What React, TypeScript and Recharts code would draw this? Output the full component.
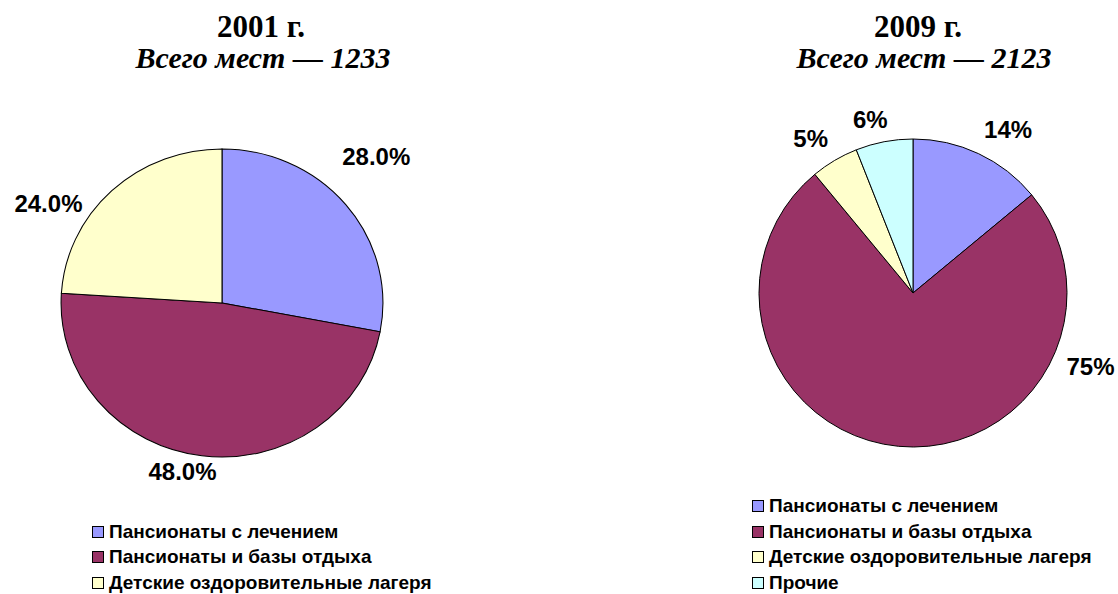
import { Cell, Pie, PieChart } from "recharts";

const categories = [
	"Пансионаты с лечением",
	"Пансионаты и базы отдыха",
	"Детские оздоровительные лагеря",
	"Прочие",
];
const shares2001 = [28, 48, 24];
const shares2009 = [14, 75, 5, 6];
const years = ["2001 г.", "2009 г."];
const totals = [1233, 2123];

const colors = ["#9999FF", "#993366", "#FFFFCC", "#CCFFFF"];

// where Excel left the value labels: angular shift from the slice middle and distance past the rim
const labelSpots2001 = [
	{ shift: -4, extra: 59 },
	{ shift: 6, extra: 19 },
	{ shift: -17, extra: 46 },
];
const labelSpots2009 = [
	{ shift: 5, extra: 35 },
	{ shift: -73, extra: 38 },
	{ shift: -3, extra: 31 },
	{ shift: -3, extra: 25 },
];

const RAD = Math.PI / 180;
const SANS = '"Liberation Sans", Arial, sans-serif';
const SERIF = '"Liberation Serif", "Times New Roman", serif';

const makeLabel =
	(decimals: number, spots: { shift: number; extra: number }[]) =>
	(props: any) => {
		const { cx, cy, midAngle, outerRadius, percent, index } = props;
		const spot = spots[index] || { shift: 0, extra: 30 };
		const a = (90 - midAngle + spot.shift) * RAD;
		const r = outerRadius + spot.extra;
		return (
			<text
				x={cx + r * Math.sin(a)}
				y={cy - r * Math.cos(a)}
				textAnchor="middle"
				dominantBaseline="central"
				fill="#000"
				style={{ fontFamily: SANS, fontWeight: "bold", fontSize: 24 }}
			>
				{(percent * 100).toFixed(decimals)}%
			</text>
		);
	};

const LegendBox = ({ names, left, top }: any) => (
	<div style={{ position: "absolute", left, top }}>
		{names.map((name: string, i: number) => (
			<div
				key={i}
				style={{
					display: "flex",
					alignItems: "center",
					height: 25.5,
					fontFamily: SANS,
					fontWeight: "bold",
					fontSize: 19,
					color: "#000",
					whiteSpace: "nowrap",
				}}
			>
				<span
					style={{
						display: "inline-block",
						width: 10,
						height: 10,
						border: "1px solid #000",
						background: colors[i],
						marginRight: 5,
					}}
				/>
				{name}
			</div>
		))}
	</div>
);

const Title = ({ text, cx, top, italic, size }: any) => (
	<div
		style={{
			position: "absolute",
			left: cx - 200,
			top,
			width: 400,
			textAlign: "center",
			fontFamily: SERIF,
			fontWeight: "bold",
			fontStyle: italic ? "italic" : "normal",
			fontSize: size,
			lineHeight: `${size}px`,
			color: "#000",
			whiteSpace: "nowrap",
		}}
	>
		{text}
	</div>
);

const toRows = (shares: number[]) =>
	shares.map((v, i) => ({ name: categories[i], value: v }));

export default function App() {
	const data2001 = toRows(shares2001);
	const data2009 = toRows(shares2009);

	return (
		<div
			style={{
				position: "absolute",
				left: 0,
				top: 0,
				width: 1118,
				height: 594,
				background: "#fff",
				overflow: "hidden",
			}}
		>
			{/* the 2001 pie is drawn slightly wider than tall in the original */}
			<style>{`
				.pie-2001 path.recharts-sector {
					transform-box: view-box;
					transform-origin: 222px 303px;
					transform: scaleX(1.045);
				}
			`}</style>

			<div className="pie-2001" style={{ position: "absolute", left: 0, top: 0 }}>
				<PieChart width={559} height={594} margin={{ top: 0, right: 0, bottom: 0, left: 0 }}>
					<Pie
						data={data2001}
						dataKey="value"
						nameKey="name"
						cx={222}
						cy={303}
						outerRadius={154}
						startAngle={90}
						endAngle={-270}
						stroke="#000"
						strokeWidth={1}
						labelLine={false}
						label={makeLabel(1, labelSpots2001)}
						isAnimationActive={false}
					>
						{data2001.map((_, i) => (
							<Cell key={i} fill={colors[i]} />
						))}
					</Pie>
				</PieChart>
			</div>

			<div style={{ position: "absolute", left: 559, top: 0 }}>
				<PieChart width={559} height={594} margin={{ top: 0, right: 0, bottom: 0, left: 0 }}>
					<Pie
						data={data2009}
						dataKey="value"
						nameKey="name"
						cx={354}
						cy={293}
						outerRadius={154}
						startAngle={90}
						endAngle={-270}
						stroke="#000"
						strokeWidth={1}
						labelLine={false}
						label={makeLabel(0, labelSpots2009)}
						isAnimationActive={false}
					>
						{data2009.map((_, i) => (
							<Cell key={i} fill={colors[i]} />
						))}
					</Pie>
				</PieChart>
			</div>

			<LegendBox names={categories.slice(0, shares2001.length)} left={92} top={519} />
			<LegendBox names={categories.slice(0, shares2009.length)} left={752} top={493.5} />

			<Title text={years[0]} cx={261} top={11} size={31} />
			<Title text={`Всего мест — ${totals[0]}`} cx={263} top={43} size={30} italic />
			<Title text={years[1]} cx={918} top={11} size={31} />
			<Title text={`Всего мест — ${totals[1]}`} cx={924} top={43} size={30} italic />
		</div>
	);
}
